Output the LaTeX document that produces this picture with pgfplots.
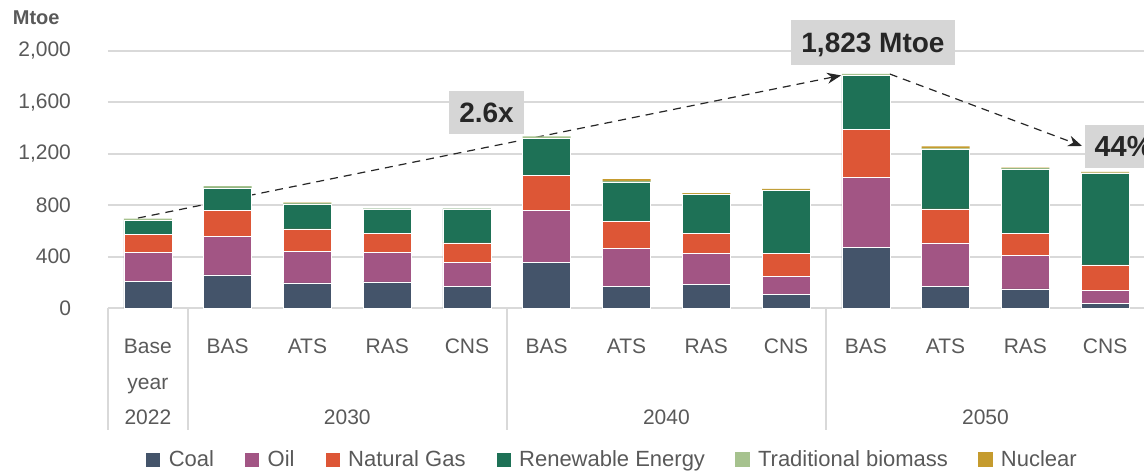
\documentclass[border=0pt]{standalone}
\usepackage{pgfplots}
\usepackage{pgfplotstable}
\pgfplotsset{compat=1.18}
\usetikzlibrary{arrows.meta}
\usepackage{fontspec}
\setmainfont{Liberation Sans}
\definecolor{coal}{HTML}{44546A}
\definecolor{oil}{HTML}{A25584}
\definecolor{gas}{HTML}{DD5636}
\definecolor{ren}{HTML}{1E7156}
\definecolor{bio}{HTML}{A6C28E}
\definecolor{nuc}{HTML}{C59B2E}
\definecolor{textgray}{HTML}{595959}
\definecolor{gridgray}{HTML}{D9D9D9}
\definecolor{boxgray}{HTML}{D6D6D6}
\definecolor{annot}{HTML}{262626}

\pgfplotstableread{
cat coal oil gas ren bio nuc
0  210 221 141 109 15 0
1  257 302 200 176 13 0
2  195 246 174 195 8  3
3  203 228 151 189 2  0
4  171 183 152 265 2  0
5  354 405 275 286 15 0
6  171 292 213 306 8  13
7  182 242 156 304 4  6
8  104 141 181 489 4  8
9  472 544 371 421 15 0
10 171 335 265 465 6  15
11 148 260 171 504 5  5
12 35  100 200 714 5  6
}\data

\begin{document}
\begin{tikzpicture}
\begin{axis}[
  at={(0pt,0pt)}, anchor=south west,
  scale only axis, width=518.5pt, height=128.5pt,
  xmin=-0.5, xmax=12.5, ymin=0, ymax=2000,
  ybar stacked, bar width=24pt,
  clip=false,
  axis line style={draw=none},
  major tick length=0pt,
  ytick={0,400,...,2000},
  ymajorgrids, grid style={draw=gridgray, line width=1pt},
  yticklabel style={font=\fontsize{10.5}{12}\selectfont, text=textgray, anchor=east, xshift=-15pt,
    /pgf/number format/1000 sep={,}, /pgf/number format/assume math mode=true},
  xtick={0,...,12},
  xticklabels={Base,BAS,ATS,RAS,CNS,BAS,ATS,RAS,CNS,BAS,ATS,RAS,CNS},
  xticklabel style={font=\fontsize{10.5}{12}\selectfont, text=textgray, anchor=base, yshift=-22.5pt},
  legend columns=6,
  legend style={at={(axis description cs:0.487,-0.591)}, anchor=center, draw=none, fill=none,
    font=\fontsize{11}{13}\selectfont, text=textgray,
    /tikz/every even column/.append style={column sep=13pt}},
  legend image code/.code={\fill[#1] (0pt,-3.75pt) rectangle (7.5pt,3.75pt); \path (9.5pt,0pt);},
]
\addplot[fill=coal, draw=white, line width=0.3pt] table[x=cat,y=coal]{\data};
\addlegendentry{Coal}
\addplot[fill=oil, draw=white, line width=0.3pt] table[x=cat,y=oil]{\data};
\addlegendentry{Oil}
\addplot[fill=gas, draw=white, line width=0.3pt] table[x=cat,y=gas]{\data};
\addlegendentry{Natural Gas}
\addplot[fill=ren, draw=white, line width=0.3pt] table[x=cat,y=ren]{\data};
\addlegendentry{Renewable Energy}
\addplot[fill=bio, draw=none] table[x=cat,y=bio]{\data};
\addlegendentry{Traditional biomass}
\addplot[fill=nuc, draw=none] table[x=cat,y=nuc]{\data};
\addlegendentry{Nuclear}

\draw[gridgray, line width=1pt] (axis cs:-0.5,0) -- (axis cs:12.5,0);
\draw[gridgray, line width=1pt] (axis cs:-0.5,0) -- (axis cs:-0.5,-949);
\draw[gridgray, line width=1pt] (axis cs:0.5,0) -- (axis cs:0.5,-949);
\draw[gridgray, line width=1pt] (axis cs:4.5,0) -- (axis cs:4.5,-949);
\draw[gridgray, line width=1pt] (axis cs:8.5,0) -- (axis cs:8.5,-949);

\node[anchor=base, font=\fontsize{10.5}{12}\selectfont, text=textgray] at (axis cs:0,-634) {year};
\node[anchor=base, font=\fontsize{10.5}{12}\selectfont, text=textgray] at (axis cs:0,-907) {2022};
\node[anchor=base, font=\fontsize{10.5}{12}\selectfont, text=textgray] at (axis cs:2.5,-907) {2030};
\node[anchor=base, font=\fontsize{10.5}{12}\selectfont, text=textgray] at (axis cs:6.5,-907) {2040};
\node[anchor=base, font=\fontsize{10.5}{12}\selectfont, text=textgray] at (axis cs:10.5,-907) {2050};
\node[font=\fontsize{10}{12}\selectfont\bfseries, text=textgray] at (axis cs:-1.40,2257) {Mtoe};

\draw[annot, dash pattern=on 4pt off 3pt, line width=0.6pt, -{Stealth[length=7pt,width=5.5pt]}]
  (axis cs:-0.125,700) -- (axis cs:8.69,1810);
\draw[annot, dash pattern=on 4pt off 3pt, line width=0.6pt, -{Stealth[length=7pt,width=5.5pt]}]
  (axis cs:9.30,1821) -- (axis cs:11.71,1261);

\node[fill=boxgray, font=\fontsize{14}{16}\selectfont\bfseries, text=annot, text height=10pt, text depth=0pt,
  inner xsep=5pt, minimum height=21.5pt] at (axis cs:4.245,1521) {2.6x};
\node[fill=boxgray, font=\fontsize{14}{16}\selectfont\bfseries, text=annot, text height=10pt, text depth=0pt,
  inner xsep=5pt, minimum height=22.5pt] at (axis cs:9.09,2066) {1,823 Mtoe};
\node[fill=boxgray, font=\fontsize{14.5}{16}\selectfont\bfseries, text=annot, text height=10pt, text depth=0pt,
  inner xsep=5pt, minimum height=21.5pt, anchor=west] at (axis cs:11.737,1257) {44\%};
\end{axis}
\pgfresetboundingbox
\path[use as bounding box] (-54pt,-82.5pt) rectangle (518pt,154pt);
\end{tikzpicture}
\end{document}
